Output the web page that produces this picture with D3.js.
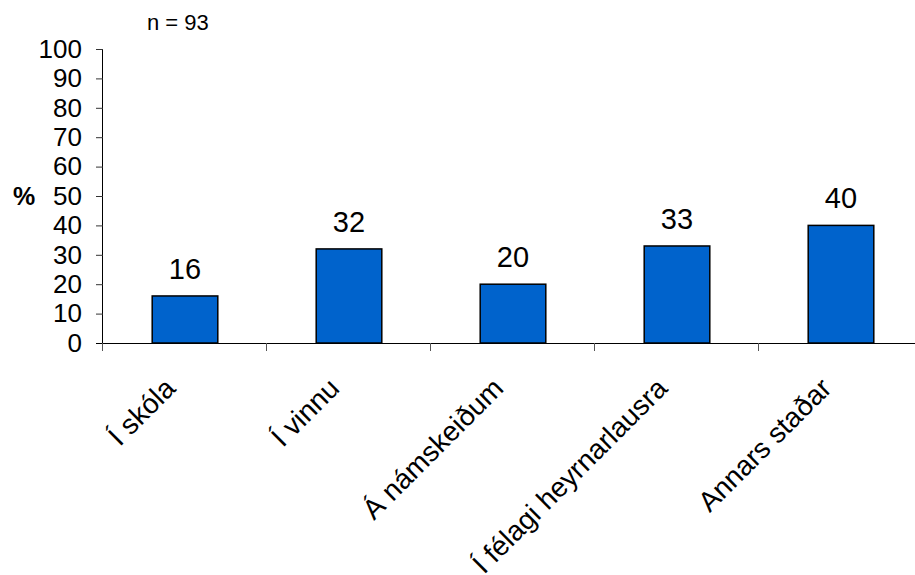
<!DOCTYPE html>
<html>
<head>
<meta charset="utf-8">
<script src="https://cdn.jsdelivr.net/npm/d3@7"></script>
<style>
  html, body { margin: 0; padding: 0; background: #fff; }
  svg { display: block; font-family: "Liberation Sans", Arial, sans-serif; }
</style>
</head>
<body>
<svg id="chart" width="915" height="575"></svg>
<script>
const categories = ["Í skóla", "Í vinnu", "Á námskeiðum", "Í félagi heyrnarlausra", "Annars staðar"];
const values = [16, 32, 20, 33, 40];
const yTicks = [0, 10, 20, 30, 40, 50, 60, 70, 80, 90, 100];
const sampleNote = "n = 93";
const yAxisLabel = "%";

(function () {
const svg = d3.select("#chart");
const mLeft = 103, mRight = 923, mTop = 49, mBottom = 343;

const x = d3.scaleBand().domain(categories).range([mLeft, mRight]).padding(0);
const y = d3.scaleLinear().domain([0, 100]).range([mBottom, mTop]);

const yAxis = svg.append("g").attr("transform", `translate(${mLeft},0)`)
  .call(d3.axisLeft(y).tickValues(yTicks).tickSize(7).tickPadding(14));
yAxis.select(".domain").attr("stroke", "#000").attr("d", `M-0.5,${mTop}V${mBottom + 8}`);
yAxis.selectAll(".tick line").attr("stroke", "#333");
yAxis.selectAll(".tick text").attr("font-size", 26).attr("fill", "#000")
  .attr("font-family", '"Liberation Sans", Arial, sans-serif');

const xg = svg.append("g");
xg.append("line").attr("x1", mLeft - 7).attr("x2", mRight).attr("y1", mBottom + 0.5).attr("y2", mBottom + 0.5)
  .attr("stroke", "#000").attr("stroke-width", 1);
const bounds = categories.map(c => x(c)).concat([x(categories[categories.length - 1]) + x.bandwidth()]);
xg.selectAll("line.bt").data(bounds).enter().append("line").attr("class", "bt")
  .attr("x1", d => Math.round(d) - 0.5).attr("x2", d => Math.round(d) - 0.5)
  .attr("y1", mBottom).attr("y2", mBottom + 8).attr("stroke", "#555");

const bw = x.bandwidth() * 0.4;
svg.append("g").selectAll("rect").data(values).enter().append("rect")
  .attr("x", (d, i) => x(categories[i]) + x.bandwidth() / 2 - bw / 2)
  .attr("y", d => y(d))
  .attr("width", bw)
  .attr("height", d => y(0) - y(d))
  .attr("fill", "#0063CC")
  .attr("stroke", "#000")
  .attr("stroke-width", 1.5);

svg.append("g").selectAll("text").data(values).enter().append("text")
  .attr("x", (d, i) => x(categories[i]) + x.bandwidth() / 2)
  .attr("y", d => y(d) - 17)
  .attr("text-anchor", "middle")
  .attr("font-size", 29)
  .attr("fill", "#000")
  .text(d => d);

svg.append("g").selectAll("text").data(categories).enter().append("text")
  .attr("transform", c => `translate(${x(c) + x.bandwidth() / 2 - 8},${mBottom + 47}) rotate(-45)`)
  .attr("text-anchor", "end")
  .attr("font-size", 28)
  .attr("fill", "#000")
  .text(c => c);

svg.append("text").attr("x", 147).attr("y", 30).attr("font-size", 22).attr("fill", "#000").text(sampleNote);

svg.append("text").attr("x", 13).attr("y", 205).attr("font-size", 25).attr("font-weight", "bold")
  .attr("fill", "#000").text(yAxisLabel);
})();
</script>
</body>
</html>
